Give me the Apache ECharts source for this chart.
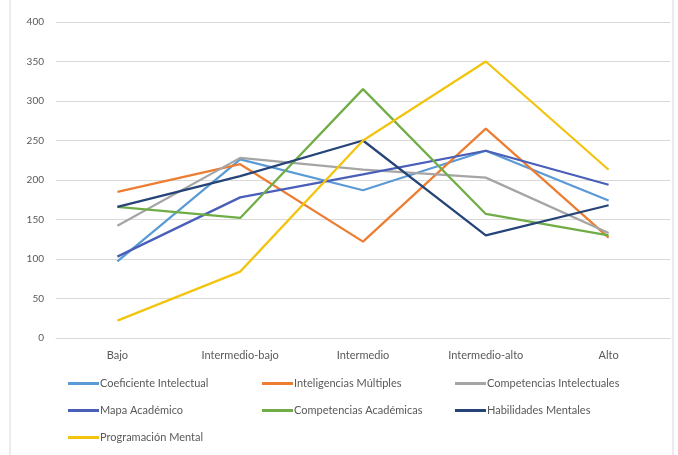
<!DOCTYPE html>
<html>
<head>
<meta charset="utf-8">
<script src="https://cdn.jsdelivr.net/npm/echarts@6/dist/echarts.min.js"></script>
<style>
  html, body { margin: 0; padding: 0; background: #fff; }
  #chart { width: 678px; height: 455px; }
</style>
</head>
<body>
<div id="chart"></div>
<script>
// categorías del eje X
const categories = ['Bajo', 'Intermedio-bajo', 'Intermedio', 'Intermedio-alto', 'Alto']

// valores
const coeficienteIntelectual = [97, 226, 187, 237, 174]
const inteligenciasMultiples = [185, 220, 122, 265, 127]
const competenciasIntelectuales = [142, 228, 213, 203, 133]
const mapaAcademico = [103, 178, 207, 237, 194]
const competenciasAcademicas = [166, 152, 315, 157, 130]
const habilidadesMentales = [166, 205, 250, 130, 168]
const programacionMental = [22, 84, 250, 350, 213]

const seriesDefs = [
  { name: 'Coeficiente Intelectual', data: coeficienteIntelectual, color: '#5B9BD5' },
  { name: 'Inteligencias Múltiples', data: inteligenciasMultiples, color: '#ED7D31' },
  { name: 'Competencias Intelectuales', data: competenciasIntelectuales, color: '#A5A5A5' },
  { name: 'Mapa Académico', data: mapaAcademico, color: '#4A5FB8' },
  { name: 'Competencias Académicas', data: competenciasAcademicas, color: '#70AD47' },
  { name: 'Habilidades Mentales', data: habilidadesMentales, color: '#264478' },
  { name: 'Programación Mental', data: programacionMental, color: '#F2C40F' }
]

const FONT = 'Lato, "Open Sans", sans-serif'
const TEXT_GRAY = '#595959'

// leyenda en rejilla de 3 columnas (posición de cada entrada)
const LEGEND_COLS = [68, 262, 455]
const LEGEND_ROWS = [378, 405, 432]

const legends = seriesDefs.map((s, i) => ({
  data: [s.name],
  left: LEGEND_COLS[i % 3],
  top: LEGEND_ROWS[Math.floor(i / 3)],
  padding: 0,
  itemWidth: 31,
  itemHeight: 3,
  itemGap: 0,
  icon: 'rect',
  selectedMode: false,
  textStyle: { color: TEXT_GRAY, fontSize: 11, fontFamily: FONT, padding: [0, 0, 0, -4] }
}))

const chart = echarts.init(document.getElementById('chart'))

chart.setOption({
  animation: false,
  backgroundColor: '#fff',
  graphic: [{
    type: 'rect',
    shape: { x: 10, y: -10, width: 663, height: 480 },
    style: { fill: 'none', stroke: '#D9D9D9', lineWidth: 1 },
    silent: true
  }],
  legend: legends,
  grid: { left: 56, right: 8, top: 22, bottom: 117 },
  xAxis: {
    type: 'category',
    data: categories,
    boundaryGap: true,
    axisLine: { lineStyle: { color: '#D9D9D9' } },
    axisTick: { show: false },
    axisLabel: { color: TEXT_GRAY, fontSize: 11, fontFamily: FONT, margin: 12 }
  },
  yAxis: {
    type: 'value',
    min: 0, max: 400, interval: 50,
    axisLine: { show: false },
    axisTick: { show: false },
    axisLabel: { color: TEXT_GRAY, fontSize: 10, fontFamily: FONT, margin: 12 },
    splitLine: { lineStyle: { color: '#D9D9D9', width: 1 } }
  },
  series: seriesDefs.map(s => ({
    name: s.name,
    type: 'line',
    data: s.data,
    showSymbol: false,
    symbol: 'none',
    lineStyle: { color: s.color, width: 2.25 },
    itemStyle: { color: s.color }
  }))
})
</script>
</body>
</html>
